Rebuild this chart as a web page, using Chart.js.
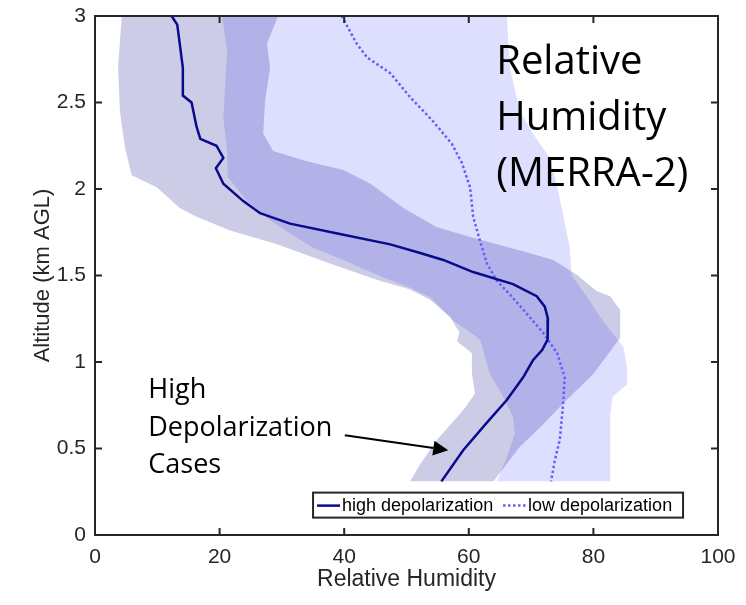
<!DOCTYPE html>
<html>
<head>
<meta charset="utf-8">
<script src="https://cdn.jsdelivr.net/npm/chart.js@4.4.0/dist/chart.umd.min.js"></script>
<style>
  html, body { margin: 0; padding: 0; background: #fff; }
</style>
</head>
<body>
<canvas id="rhChart" width="746" height="605"></canvas>
<script>
// mean profiles (altitude km AGL / relative humidity %)
const highAlt = [3.0, 2.95, 2.84, 2.70, 2.54, 2.50, 2.36, 2.29, 2.25, 2.18, 2.12, 2.03, 1.93, 1.86, 1.80, 1.74, 1.68, 1.63, 1.59, 1.52, 1.45, 1.38, 1.32, 1.25, 1.18, 1.13, 1.07, 1.01, 0.91, 0.78, 0.65, 0.49, 0.31]
const highRH = [12.3, 13.2, 13.6, 14.1, 14.1, 15.5, 16.3, 16.9, 19.5, 20.6, 19.4, 20.6, 23.8, 26.5, 31.3, 39.3, 47.4, 52.2, 55.9, 60.7, 67.1, 70.9, 72.2, 72.7, 72.7, 72.6, 71.8, 70.3, 68.7, 66.1, 62.9, 59.1, 55.6]

const lowAlt = [3.0, 2.84, 2.76, 2.67, 2.53, 2.39, 2.26, 2.15, 2.01, 1.84, 1.70, 1.57, 1.47, 1.37, 1.28, 1.17, 1.05, 0.91, 0.74, 0.55, 0.43, 0.31]
const lowRH = [39.6, 42.0, 43.7, 47.4, 50.6, 54.3, 57.3, 58.9, 60.2, 60.7, 61.8, 62.9, 64.5, 67.1, 69.3, 71.9, 74.2, 75.4, 75.1, 74.6, 73.8, 73.2]

// spread of the high depolarization cases (left / right edge)
const hbLeftAlt = [3.0, 2.70, 2.45, 2.24, 2.08, 2.01, 1.89, 1.84, 1.76, 1.68, 1.57, 1.47, 1.42, 1.36, 1.26, 1.17, 1.12, 1.05, 0.93, 0.82, 0.74, 0.68, 0.55, 0.41, 0.31]
const hbLeftRH = [4.3, 3.7, 4.0, 4.8, 5.9, 9.9, 13.6, 16.3, 21.7, 29.2, 37.7, 45.7, 50.5, 53.8, 57.0, 58.5, 58.1, 60.5, 60.5, 61.0, 59.5, 58.1, 54.9, 52.2, 50.6]
const hbRightAlt = [3.0, 2.84, 2.70, 2.51, 2.32, 2.22, 2.16, 2.11, 2.03, 1.89, 1.78, 1.72, 1.65, 1.59, 1.50, 1.41, 1.38, 1.30, 1.14, 0.93, 0.78, 0.62, 0.51, 0.36, 0.31]
const hbRightRH = [29.4, 27.6, 28.1, 27.3, 27.0, 28.6, 34.0, 39.9, 44.2, 49.5, 54.8, 60.5, 67.7, 73.6, 77.5, 80.5, 82.7, 84.3, 84.3, 80.0, 75.7, 71.4, 68.2, 65.0, 64.0]

// spread of the low depolarization cases
const lbLeftAlt = [3.0, 2.80, 2.61, 2.41, 2.22, 2.07, 1.93, 1.82, 1.75, 1.66, 1.59, 1.49, 1.43, 1.375, 1.24, 1.13, 0.93, 0.80, 0.68, 0.59, 0.45, 0.31]
const lbLeftRH = [20.4, 21.2, 20.9, 20.6, 21.2, 21.3, 24.4, 28.1, 31.0, 35.0, 39.8, 46.2, 50.5, 53.8, 57.5, 61.8, 63.4, 65.5, 67.1, 67.4, 66.1, 64.5]
const lbRightAlt = [3.0, 2.70, 2.45, 2.32, 2.18, 2.01, 1.86, 1.66, 1.50, 1.38, 1.26, 1.16, 1.09, 0.97, 0.87, 0.80, 0.70, 0.62, 0.31]
const lbRightRH = [66.1, 66.6, 68.2, 70.3, 73.0, 74.2, 75.1, 76.2, 76.5, 78.9, 81.1, 83.2, 84.8, 85.4, 85.4, 83.1, 82.7, 82.7, 82.7]

const xTicks = [0, 20, 40, 60, 80, 100]
const yTicks = [0, 0.5, 1, 1.5, 2, 2.5, 3]

const toPts = (xs, ys) => xs.map((v, i) => ({x: v, y: ys[i]}))
// band = left edge going down, then right edge coming back up
const band = (lx, ly, rx, ry) => toPts(lx, ly).concat(toPts(rx, ry).reverse())

const ink = '#262626'
const axisFont = '"Liberation Sans", Arial, sans-serif'

// box + inward ticks on all four sides (matlab look)
const frame = {
    id: 'frame',
    afterDatasetsDraw(chart) {
        const {ctx, chartArea: a, scales: {x, y}} = chart
        ctx.save()
        ctx.strokeStyle = ink
        ctx.lineWidth = 2
        ctx.strokeRect(a.left, a.top, a.right - a.left, a.bottom - a.top)
        ctx.beginPath()
        xTicks.forEach(v => {
            const px = x.getPixelForValue(v)
            ctx.moveTo(px, a.bottom); ctx.lineTo(px, a.bottom - 7)
            ctx.moveTo(px, a.top); ctx.lineTo(px, a.top + 7)
        })
        yTicks.forEach(v => {
            const py = y.getPixelForValue(v)
            ctx.moveTo(a.left, py); ctx.lineTo(a.left + 7, py)
            ctx.moveTo(a.right, py); ctx.lineTo(a.right - 7, py)
        })
        ctx.stroke()
        ctx.restore()
    }
}

// legend box inside the axes + text notes + arrow
const notes = {
    id: 'notes',
    afterDraw(chart) {
        const {ctx, scales: {x, y}} = chart
        const ds = chart.data.datasets

        ctx.save()
        // legend
        const lx = x.getPixelForValue(35.0), ly = y.getPixelForValue(0.245)
        const lw = 370, lh = 25
        ctx.fillStyle = '#fff'
        ctx.fillRect(lx, ly, lw, lh)
        ctx.strokeStyle = ink
        ctx.lineWidth = 2
        ctx.strokeRect(lx, ly, lw, lh)
        ctx.font = '18px ' + axisFont
        ctx.textBaseline = 'middle'
        ctx.fillStyle = '#000'
        const mid = ly + lh / 2 + 0.5
        const items = [[ds[0], lx + 4], [ds[1], lx + 190]]
        items.forEach(([d, sx]) => {
            ctx.beginPath()
            ctx.strokeStyle = d.borderColor
            ctx.lineWidth = d.borderWidth
            ctx.setLineDash(d.borderDash || [])
            ctx.moveTo(sx, mid); ctx.lineTo(sx + 23, mid)
            ctx.stroke()
            ctx.setLineDash([])
            ctx.fillText(d.label, sx + 25, mid)
        })

        // big label
        ctx.fillStyle = '#000'
        ctx.textBaseline = 'alphabetic'
        ctx.font = '40px "Open Sans", sans-serif'
        const tx = x.getPixelForValue(64.4)
        ;['Relative', 'Humidity', '(MERRA-2)'].forEach((t, i) => {
            ctx.fillText(t, tx, y.getPixelForValue(2.666) + i * 56)
        })

        // high depolarization note
        ctx.font = '27px "Open Sans", sans-serif'
        const hx = x.getPixelForValue(8.55)
        ;['High', 'Depolarization', 'Cases'].forEach((t, i) => {
            ctx.fillText(t, hx, y.getPixelForValue(0.79) + i * 37.3)
        })

        // arrow
        const ax0 = x.getPixelForValue(40.1), ay0 = y.getPixelForValue(0.577)
        const ax1 = x.getPixelForValue(56.7), ay1 = y.getPixelForValue(0.49)
        const ang = Math.atan2(ay1 - ay0, ax1 - ax0)
        const head = 15, half = 7.5
        const bx = ax1 - head * Math.cos(ang), by = ay1 - head * Math.sin(ang)
        ctx.strokeStyle = '#000'
        ctx.lineWidth = 2
        ctx.beginPath()
        ctx.moveTo(ax0, ay0); ctx.lineTo(bx, by)
        ctx.stroke()
        ctx.fillStyle = '#000'
        ctx.beginPath()
        ctx.moveTo(ax1, ay1)
        ctx.lineTo(bx - half * Math.sin(ang), by + half * Math.cos(ang))
        ctx.lineTo(bx + half * Math.sin(ang), by - half * Math.cos(ang))
        ctx.closePath()
        ctx.fill()
        ctx.restore()
    }
}

const ctx = document.getElementById('rhChart').getContext('2d')
const rhChart = new Chart(ctx, {
    type: 'line',
    data: {
        datasets: [
            {
                label: 'high depolarization',
                data: toPts(highRH, highAlt),
                borderColor: 'rgb(10,10,140)',
                borderWidth: 2.5,
                order: 0
            },
            {
                label: 'low depolarization',
                data: toPts(lowRH, lowAlt),
                borderColor: 'rgb(95,95,255)',
                borderWidth: 2.5,
                borderDash: [2.5, 2.5],
                order: 1
            },
            {
                label: 'low spread',
                data: band(lbLeftRH, lbLeftAlt, lbRightRH, lbRightAlt),
                borderWidth: 0,
                borderColor: 'rgba(0,0,0,0)',
                backgroundColor: 'rgba(0,0,255,0.13)',
                fill: 'shape',
                order: 2
            },
            {
                label: 'high spread',
                data: band(hbLeftRH, hbLeftAlt, hbRightRH, hbRightAlt),
                borderWidth: 0,
                borderColor: 'rgba(0,0,0,0)',
                backgroundColor: 'rgba(0,0,128,0.2)',
                fill: 'shape',
                order: 3
            }
        ]
    },
    options: {
        responsive: false,
        animation: false,
        elements: {
            point: {radius: 0},
            line: {tension: 0}
        },
        layout: {padding: {top: 16, right: 28, left: 0, bottom: 0}},
        plugins: {
            legend: {display: false},
            tooltip: {enabled: false}
        },
        scales: {
            x: {
                type: 'linear',
                min: 0, max: 100,
                grid: {display: false},
                border: {display: false},
                afterBuildTicks: s => { s.ticks = xTicks.map(v => ({value: v})) },
                afterFit: s => { s.height = 70 },
                ticks: {color: ink, padding: 2, font: {family: axisFont, size: 21}, callback: v => String(v)},
                title: {
                    display: true, text: 'Relative Humidity', color: ink,
                    padding: {top: 0, bottom: 12},
                    font: {family: axisFont, size: 23}
                }
            },
            y: {
                type: 'linear',
                min: 0, max: 3,
                grid: {display: false},
                border: {display: false},
                afterBuildTicks: s => { s.ticks = yTicks.map(v => ({value: v})) },
                afterFit: s => { s.width = 95 },
                ticks: {color: ink, padding: 1, font: {family: axisFont, size: 21}, callback: v => String(v)},
                title: {
                    display: true, text: 'Altitude (km AGL)', color: ink,
                    padding: {top: 30, bottom: 0},
                    font: {family: axisFont, size: 22}
                }
            }
        }
    },
    plugins: [frame, notes]
})
</script>
</body>
</html>
